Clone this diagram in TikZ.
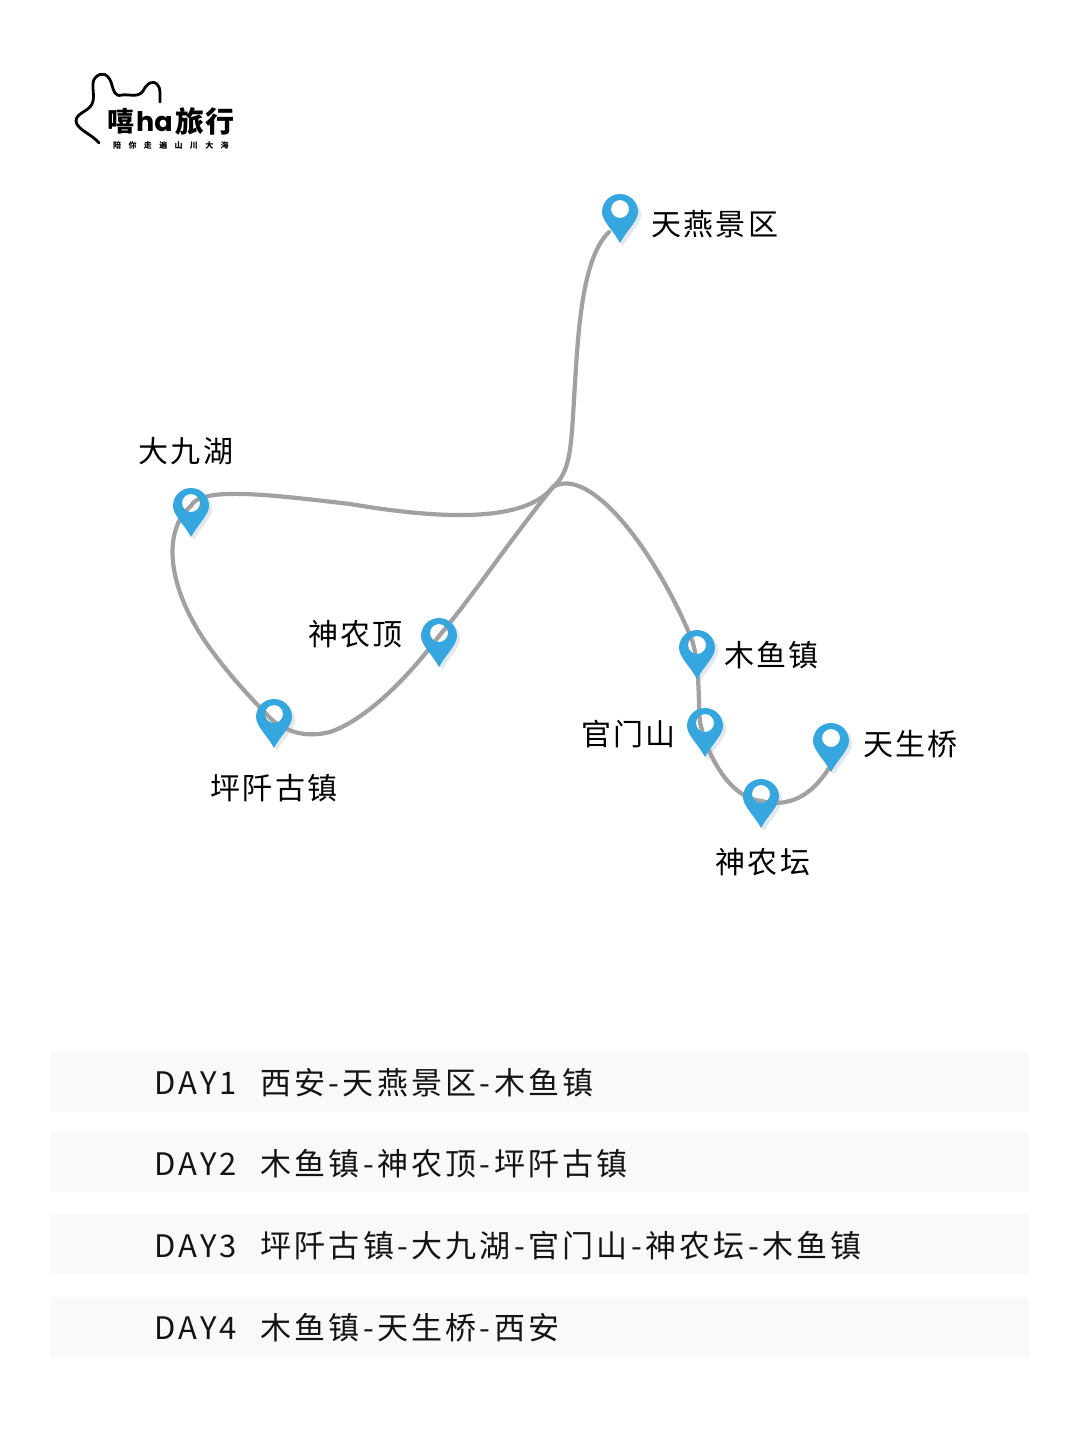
\documentclass[tikz,border=0pt]{standalone}
\usepackage{fontspec}
\setmainfont{Noto Sans CJK SC}[LetterSpace=8]
\newfontfamily\dayfont{Noto Sans CJK SC}[LetterSpace=10.6]
\newfontfamily\logofont{Noto Sans CJK SC}[LetterSpace=4]
\newfontfamily\halfont{Poppins}
\newfontfamily\subfont{Noto Sans CJK SC}[LetterSpace=92]
\definecolor{pinblue}{HTML}{36A6DE}
\definecolor{pinshade}{HTML}{E2E8EC}
\definecolor{routegray}{HTML}{A1A1A1}
\definecolor{barfill}{HTML}{F9F9F9}
% the pin outline with its hole, its head centred on the origin
\newcommand{\pinoutline}{(-18,0) .. controls (-18,-10) and (-10,-18) .. (0,-18)
	.. controls (10,-18) and (18,-10) .. (18,0)
	.. controls (18,9) and (7,18) .. (0,31)
	.. controls (-7,18) and (-18,9) .. (-18,0) -- cycle
	(0,-3) circle (9)}
\tikzset{
	mappin/.pic={
		\fill[pinshade,even odd rule,shift={(3,3)}] \pinoutline;
		\fill[white] (0,-3) circle (9);
	},
	mappinhead/.pic={
		\fill[pinblue,even odd rule] \pinoutline;
	},
	placelabel/.style={font=\fontsize{30}{30}\selectfont,text=black,inner sep=0pt},
	daylabel/.style={font=\dayfont\fontsize{31}{31}\selectfont,text=black!92,inner sep=0pt,anchor=base west},
	logolabel/.style={inner sep=0pt,anchor=base west},
	route/.style={draw=routegray,line width=4.2pt,line cap=round},
}
\begin{document}
\begin{tikzpicture}[x=1pt,y=-1pt]
	\useasboundingbox[fill=white] (0,0) rectangle (1080,1443);
	% places, at the centre of each pin head
	\coordinate (tianyan) at (620,212);
	\coordinate (dajiu) at (191,506);
	\coordinate (shennongding) at (439,636);
	\coordinate (pingqian) at (274,717);
	\coordinate (muyu) at (697,648);
	\coordinate (guanmen) at (705,726);
	\coordinate (tiansheng) at (831,741);
	\coordinate (shennongtan) at (761,797);
	% where the route really passes or ends
	\coordinate (fork) at (553,487);
	\coordinate (tianyanend) at (609,232);
	\coordinate (pingqianpass) at (272,720);
	\coordinate (muyupass) at (692,640);
	\coordinate (guanmenpass) at (700,722);
	\coordinate (tanpass) at (761,801);
	\coordinate (tianshengend) at (829,768);
	% shadows first, the route runs over them
	\foreach \place in {tianyan,dajiu,shennongding,pingqian,muyu,guanmen,tiansheng,shennongtan}
		\pic at (\place) {mappin};
	% route
	\draw[route] (tianyanend) .. controls (582,258) and (578,330) .. (574,400)
		.. controls (571,450) and (570,472) .. (fork)
		.. controls (525,522) and (445,520) .. (350,504)
		.. controls (280,496) and (200,485) .. (dajiu);
	\draw[route] (dajiu) .. controls (162,530) and (165,590) .. (215,655)
		.. controls (235,682) and (255,702) .. (pingqianpass);
	\draw[route] (pingqianpass) .. controls (288,732) and (305,738) .. (330,732)
		.. controls (360,722) and (400,688) .. (shennongding);
	\draw[route] (shennongding) .. controls (470,600) and (510,540) .. (fork)
		.. controls (590,465) and (655,550) .. (muyupass);
	\draw[route] (muyupass) .. controls (700,665) and (698,700) .. (guanmenpass);
	\draw[route] (guanmenpass) .. controls (708,760) and (732,798) .. (tanpass);
	\draw[route] (tanpass) .. controls (790,808) and (812,795) .. (tianshengend);
	% pins
	\foreach \place in {tianyan,dajiu,shennongding,pingqian,muyu,guanmen,tiansheng,shennongtan}
		\pic at (\place) {mappinhead};
	% labels
	\node[placelabel,anchor=west] (tianyanlabel) at (651,224) {天燕景区};
	\node[placelabel] (dajiulabel) at (186,451) {大九湖};
	\node[placelabel,anchor=east] (shennongdinglabel) at (403,634) {神农顶};
	\node[placelabel] (pingqianlabel) at (274,788) {坪阡古镇};
	\node[placelabel,anchor=west] (muyulabel) at (724,655) {木鱼镇};
	\node[placelabel,anchor=east] (guanmenlabel) at (676,734) {官门山};
	\node[placelabel,anchor=west] (tianshenglabel) at (863,744) {天生桥};
	\node[placelabel] (shennongtanlabel) at (763,862) {神农坛};
	% day bars
	\foreach \top in {1052,1132,1214,1297}
		\fill[barfill] (50,\top) rectangle (1029,\top+60);
	\node[daylabel] (dayone) at (154,1094) {DAY1};
	\node[daylabel] (routeone) at (260,1094) {西安-天燕景区-木鱼镇};
	\node[daylabel] (daytwo) at (154,1175) {DAY2};
	\node[daylabel] (routetwo) at (260,1175) {木鱼镇-神农顶-坪阡古镇};
	\node[daylabel] (daythree) at (154,1257) {DAY3};
	\node[daylabel] (routethree) at (260,1257) {坪阡古镇-大九湖-官门山-神农坛-木鱼镇};
	\node[daylabel] (dayfour) at (154,1339) {DAY4};
	\node[daylabel] (routefour) at (260,1339) {木鱼镇-天生桥-西安};
	% logo
	\draw[line width=2.8pt,line cap=round,line join=round] (99,143) .. controls (92,134) and (77,130) .. (76,121)
		.. controls (76,113) and (88,112) .. (92,104)
		.. controls (96,96) and (90,84) .. (95,78)
		.. controls (101,71) and (108,74) .. (111,82)
		.. controls (114,92) and (115,97) .. (122,95)
		.. controls (130,94) and (138,98) .. (143,91)
		.. controls (147,83) and (153,80) .. (157,84)
		.. controls (161,88) and (160,95) .. (160,102);
	\node[logolabel,text height=20pt,text depth=2pt,font=\logofont\bfseries\fontsize{27}{27}\selectfont] (logoleft) at (107,131) {嘻};
	\node[logolabel,text height=20pt,text depth=2pt,font=\halfont\bfseries\fontsize{27}{27}\selectfont] (logoha) at (136,131) {ha};
	\node[logolabel,text height=20pt,text depth=2pt,font=\logofont\bfseries\fontsize{29}{29}\selectfont] (logoright) at (175,132) {旅行};
	\node[logolabel,text height=6pt,text depth=1pt,font=\subfont\bfseries\fontsize{8}{8}\selectfont] (logotag) at (113,148) {陪你走遍山川大海};
\end{tikzpicture}
\end{document}
